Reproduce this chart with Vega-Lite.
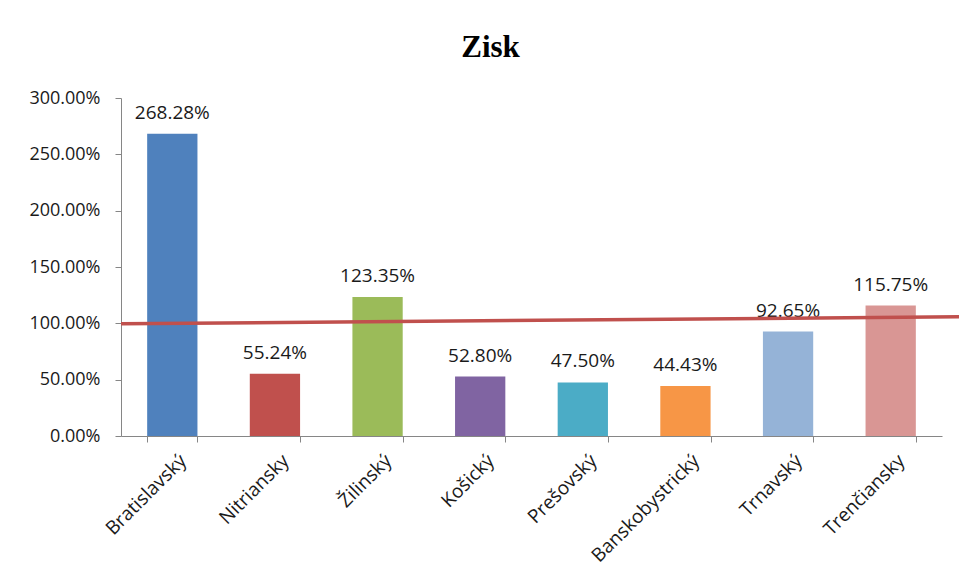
{
  "$schema": "https://vega.github.io/schema/vega-lite/v6.json",
  "autosize": {"type": "none"},
  "width": 821,
  "height": 338,
  "padding": {"left": 121, "top": 98, "right": 17, "bottom": 144},
  "background": "white",
  "config": {"view": {"stroke": null}},
  "title": {
    "text": "Zisk",
    "font": "Liberation Serif",
    "fontSize": 31,
    "fontWeight": "bold",
    "color": "#000000",
    "anchor": "middle",
    "frame": "group",
    "dx": -41,
    "offset": 25
  },
  "datasets": {
    "bars": [
      {"kraj": "Bratislavský", "zisk": 2.6828},
      {"kraj": "Nitriansky", "zisk": 0.5524},
      {"kraj": "Žilinský", "zisk": 1.2335},
      {"kraj": "Košický", "zisk": 0.5280},
      {"kraj": "Prešovský", "zisk": 0.4750},
      {"kraj": "Banskobystrický", "zisk": 0.4443},
      {"kraj": "Trnavský", "zisk": 0.9265},
      {"kraj": "Trenčiansky", "zisk": 1.1575}
    ],
    "trend": [
      {"t": 0, "v": 0.996},
      {"t": 1.0207, "v": 1.058}
    ]
  },
  "layer": [
    {
      "data": {"name": "bars"},
      "layer": [
        {
          "mark": {"type": "bar"},
          "encoding": {
            "x": {
              "field": "kraj",
              "type": "nominal",
              "sort": null,
              "scale": {"paddingInner": 0.51, "paddingOuter": 0.255},
              "axis": {
                "title": null,
                "labelAngle": -45,
                "labelFont": "Open Sans",
                "labelFontSize": 19,
                "labelColor": "#1a1a1a",
                "domainColor": "#868686",
                "tickColor": "#868686",
                "tickSize": 6,
                "tickBand": "extent",
                "labelPadding": 9,
                "labelOffset": 4
              }
            },
            "y": {
              "field": "zisk",
              "type": "quantitative",
              "scale": {"domain": [0, 3]},
              "axis": {
                "title": null,
                "format": ".2%",
                "values": [0, 0.5, 1, 1.5, 2, 2.5, 3],
                "grid": false,
                "labelFont": "Open Sans",
                "labelFontSize": 18,
                "labelColor": "#1a1a1a",
                "domainColor": "#868686",
                "tickColor": "#868686",
                "tickSize": 6,
                "labelPadding": 15
              }
            },
            "color": {
              "field": "kraj",
              "type": "nominal",
              "sort": null,
              "legend": null,
              "scale": {
                "domain": ["Bratislavský", "Nitriansky", "Žilinský", "Košický", "Prešovský", "Banskobystrický", "Trnavský", "Trenčiansky"],
                "range": ["#4F81BD", "#C0504D", "#9BBB59", "#8064A2", "#4BACC6", "#F79646", "#95B3D7", "#D99694"]
              }
            }
          }
        },
        {
          "mark": {"type": "text", "baseline": "alphabetic", "dy": -15, "font": "Open Sans", "fontSize": 19, "color": "#1a1a1a"},
          "encoding": {
            "x": {"field": "kraj", "type": "nominal", "sort": null},
            "y": {"field": "zisk", "type": "quantitative"},
            "text": {"field": "zisk", "type": "quantitative", "format": ".2%"}
          }
        }
      ]
    },
    {
      "data": {"name": "trend"},
      "mark": {"type": "line", "color": "#C0504D", "strokeWidth": 3.5, "clip": false},
      "encoding": {
        "x": {"field": "t", "type": "quantitative", "scale": {"domain": [0, 1], "nice": false, "zero": false}, "axis": null},
        "y": {"field": "v", "type": "quantitative"}
      }
    }
  ],
  "resolve": {"scale": {"x": "independent"}}
}
